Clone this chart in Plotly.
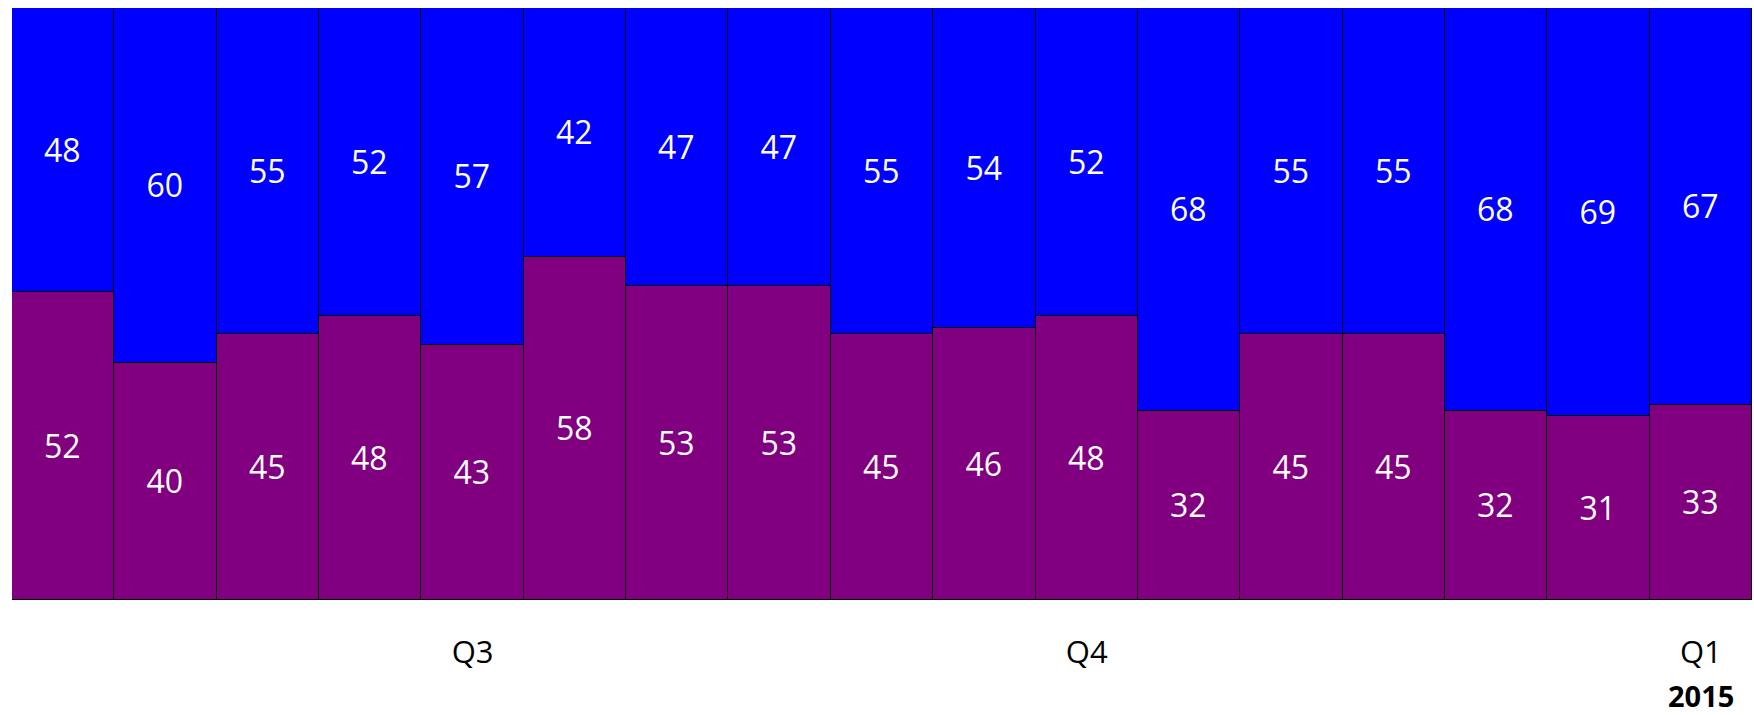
import plotly.graph_objects as go

positions = list(range(17))
purple_vals = [52, 40, 45, 48, 43, 58, 53, 53, 45, 46, 48, 32, 45, 45, 32, 31, 33]
blue_vals = [48, 60, 55, 52, 57, 42, 47, 47, 55, 54, 52, 68, 55, 55, 68, 69, 67]
tick_positions = [4, 10, 16]
tick_labels = ["Q3", "Q4", "Q1"]
year_label = "2015"
year_position = 16

FONT = "Open Sans"
fig = go.Figure()
fig.add_trace(go.Bar(
    x=positions, y=purple_vals, text=purple_vals,
    marker=dict(color="#800080", line=dict(color="black", width=1.5)),
    textposition="inside", insidetextanchor="middle", textangle=0,
    textfont=dict(color="white", size=32, family=FONT),
    hoverinfo="skip",
))
fig.add_trace(go.Bar(
    x=positions, y=blue_vals, text=blue_vals,
    marker=dict(color="#0000FF", line=dict(color="black", width=1.5)),
    textposition="inside", insidetextanchor="middle", textangle=0,
    textfont=dict(color="white", size=32, family=FONT),
    hoverinfo="skip",
))
fig.add_annotation(
    x=year_position, xref="x", y=-0.1605, yref="paper",
    text="<b>" + year_label + "</b>", showarrow=False,
    xanchor="center", yanchor="middle", height=30, borderpad=0,
    font=dict(size=29, family=FONT, color="black"),
)
fig.update_layout(
    barmode="stack", bargap=0, showlegend=False,
    width=1754, height=715,
    margin=dict(l=12, r=2, t=8, b=115, autoexpand=False),
    paper_bgcolor="white", plot_bgcolor="white",
    font=dict(family=FONT, color="black", size=32),
    uniformtext=dict(minsize=32, mode="show"),
)
fig.update_xaxes(
    range=[-0.5, 16.5], tickmode="array", tickvals=tick_positions, ticktext=tick_labels,
    ticks="outside", ticklen=25, tickcolor="rgba(0,0,0,0)",
    showgrid=False, zeroline=False, showline=False, automargin=False,
    tickfont=dict(size=31, family=FONT, color="black"),
)
fig.update_yaxes(range=[0, 100], visible=False)
fig.write_html(
    "out.html",
    config={"displayModeBar": False},
    post_script="document.body.style.margin='0';document.body.style.overflow='hidden';",
)
